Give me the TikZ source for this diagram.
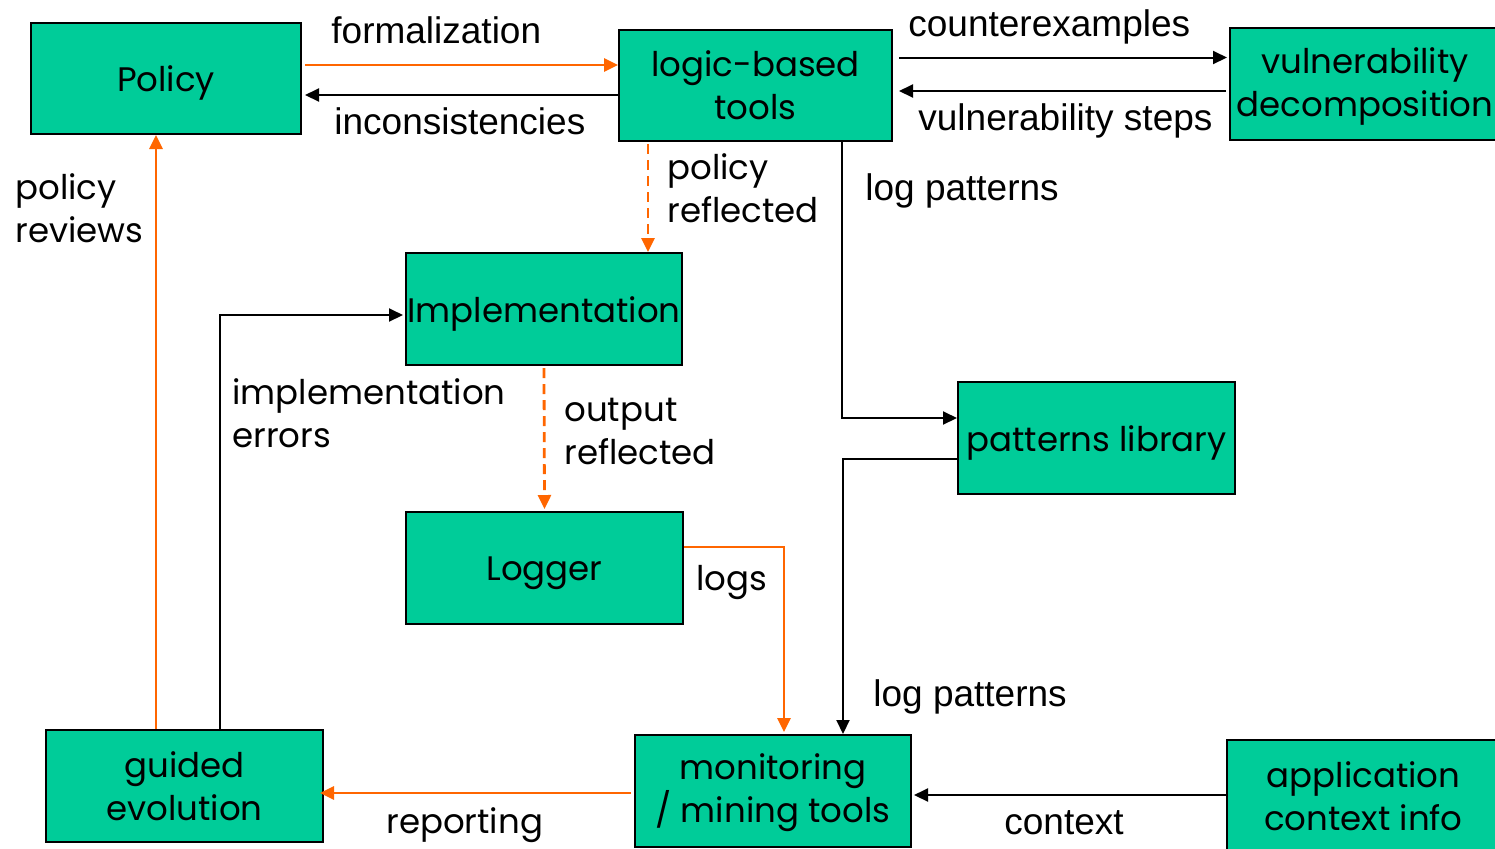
\documentclass[tikz,border=0pt]{standalone}
\usepackage{fontspec}
\setmainfont{Poppins}
\newfontfamily\arialf{Liberation Sans}
\usetikzlibrary{arrows.meta}
\definecolor{boxgreen}{RGB}{0,204,153}
\definecolor{arrorange}{RGB}{255,102,0}
\newcommand{\cfont}{\fontsize{17}{21.5}\selectfont}
\newcommand{\lowstrut}{\rule{0pt}{17.5pt}}
\tikzset{
  box/.style={draw=black, line width=1pt, fill=boxgreen, inner sep=0pt, align=center, font=\cfont},
  oarr/.style={draw=arrorange, line width=1.4pt, -{Triangle[length=7pt,width=6.5pt]}},
  barr/.style={draw=black, line width=1pt, -{Triangle[length=7pt,width=6.5pt]}},
  dashline/.style={dash pattern=on 5pt off 3pt},
  lbl/.style={font=\arialf\fontsize{18.5}{22}\selectfont, inner sep=0pt, anchor=base west},
  clbl/.style={font=\cfont, inner sep=0pt, anchor=base west, align=left}
}
\begin{document}
\begin{tikzpicture}[x=0.5pt,y=-0.5pt]
\useasboundingbox (0,0) rectangle (1495,848);
\clip (0,0) rectangle (1495,848);
% boxes
\node[box, minimum width=135pt, minimum height=55.5pt] (policy) at (166,78.5) {\lowstrut Policy};
\node[box, minimum width=136.5pt, minimum height=55.5pt] (logic) at (755.5,85.5) {logic-based\\tools};
\node[box, minimum width=135pt, minimum height=56pt] (vuln) at (1365,84) {\rule{0pt}{15pt}vulnerability\\decomposition};
\node[box, minimum width=138pt, minimum height=56pt] (impl) at (544,309) {\lowstrut Implementation};
\node[box, minimum width=138.5pt, minimum height=56pt] (patt) at (1096.5,438) {\lowstrut patterns library};
\node[box, minimum width=138.5pt, minimum height=56pt] (logger) at (544.5,568) {\lowstrut Logger};
\node[box, minimum width=138.5pt, minimum height=56pt] (guided) at (184.5,786) {guided\\evolution};
\node[box, minimum width=138pt, minimum height=56pt] (mon) at (773,791) {\rule{0pt}{15pt}monitoring\\/ mining tools};
\node[box, minimum width=136.5pt, minimum height=56pt] (app) at (1363.5,796) {application\\context info};
% connectors
\draw[oarr] ([shift={(3,-13.5)}]policy.east) -- ([shift={(0,-20.5)}]logic.west);
\draw[barr] ([shift={(0,9.5)}]logic.west) -- ([shift={(3,16.5)}]policy.east);
\draw[barr] ([shift={(6,-28)}]logic.east) -- ([shift={(-2,-26.5)}]vuln.west);
\draw[barr] ([shift={(-3,7)}]vuln.west) -- ([shift={(6,5.5)}]logic.east);
\draw[oarr, dashline] ([shift={(-107.5,2)}]logic.south) -- ([shift={(104,0)}]impl.north);
\draw[barr] ([shift={(86.5,0)}]logic.south) |- ([shift={(0,-20)}]patt.west);
\draw[barr] ([shift={(0,21)}]patt.west) -| ([shift={(70,0)}]mon.north);
\draw[barr] ([shift={(35.5,0)}]guided.north) |- ([shift={(-2,6)}]impl.west);
\draw[oarr, dashline] ([shift={(0,2)}]impl.south) -- ([shift={(0,-2)}]logger.north);
\draw[oarr] ([shift={(0,-21)}]logger.east) -| ([shift={(11,-2)}]mon.north);
\draw[oarr] ([shift={(-28.5,0)}]guided.north) -- ([shift={(-10,0)}]policy.south);
\draw[oarr] ([shift={(-3,2)}]mon.west) -- ([shift={(-4,7)}]guided.east);
\draw[barr] ([shift={(0,-1)}]app.west) -- ([shift={(2,4)}]mon.east);
% labels
\node[lbl] (lformal) at (331,43) {formalization};
\node[lbl] (lincons) at (334,134) {inconsistencies};
\node[lbl] (lcounter) at (908,36) {counterexamples};
\node[lbl] (lvsteps) at (918,130) {vulnerability steps};
\node[lbl] (llog1) at (865,200) {log patterns};
\node[lbl] (llog2) at (873,706) {log patterns};
\node[lbl] (lctx) at (1004,834) {context};
\node[clbl] (lpref) at (667,222) {policy\\reflected};
\node[clbl] (lprev) at (15,242) {policy\\reviews};
\node[clbl] (limperr) at (232,447) {implementation\\errors};
\node[clbl] (lout) at (564,464) {output\\reflected};
\node[clbl] (llogs) at (696,590) {logs};
\node[clbl] (lrep) at (386,833) {reporting};
\end{tikzpicture}
\end{document}
